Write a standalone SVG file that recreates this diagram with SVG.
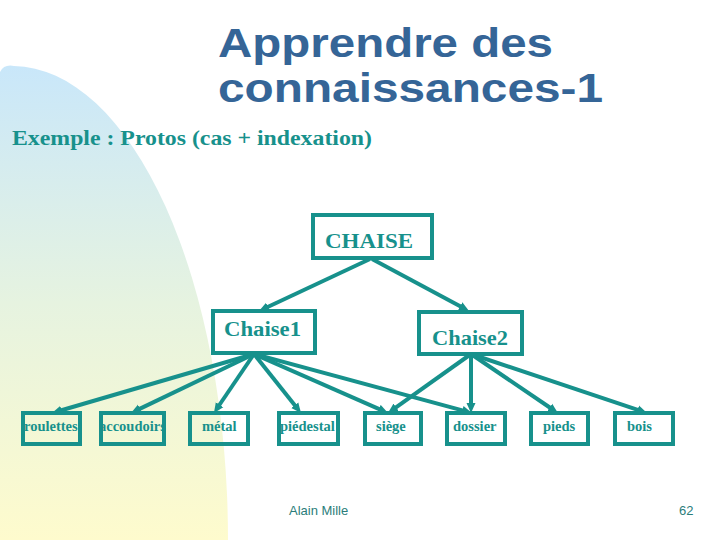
<svg xmlns="http://www.w3.org/2000/svg" width="720" height="540" viewBox="0 0 720 540">
<defs>
<linearGradient id="bg" x1="0" y1="65" x2="0" y2="540" gradientUnits="userSpaceOnUse">
<stop offset="0" stop-color="#c9e7fa"/>
<stop offset="0.5" stop-color="#e6f3e0"/>
<stop offset="1" stop-color="#fefbcd"/>
</linearGradient>
<marker id="ah" markerUnits="userSpaceOnUse" markerWidth="12" markerHeight="10" viewBox="0 -5 12 10" refX="1" refY="0" orient="auto">
<path d="M0,-4.5 L10,0 L0,4.5 z" fill="#17918c"/>
</marker>
<style>
.box{fill:none;stroke:#17918c;stroke-width:4}
.lbl{font-family:"Liberation Serif","Times New Roman",serif;font-weight:bold;fill:#17918c}
.sm{font-size:14.5px}
.con line{stroke:#17918c;stroke-width:4;marker-end:url(#ah)}
.title{font-family:"Liberation Sans",Arial,sans-serif;font-weight:bold;font-size:40px;fill:#356597}
.foot{font-family:"Liberation Sans",Arial,sans-serif;font-size:13px;fill:#2b7d7a}
</style>
</defs>
<rect width="720" height="540" fill="#ffffff"/>
<path d="M0,540 V72 Q4,64 14,66 A 216 474 0 0 1 228,540 Z" fill="url(#bg)"/>
<text class="title" x="218" y="57" textLength="335" lengthAdjust="spacingAndGlyphs">Apprendre des</text>
<text class="title" x="218" y="102" textLength="385" lengthAdjust="spacingAndGlyphs">connaissances-1</text>
<text class="lbl" x="12" y="145" font-size="21" textLength="360" lengthAdjust="spacingAndGlyphs">Exemple : Protos (cas + indexation)</text>

<g class="con" id="connectors">
<line x1="370" y1="259" x2="267.1" y2="307.2"/>
<line x1="372" y1="259" x2="461.1" y2="306.8"/>
<line x1="254" y1="354" x2="60.6" y2="410.5"/>
<line x1="254" y1="354" x2="139.1" y2="409.1"/>
<line x1="254" y1="354" x2="219.0" y2="405.5"/>
<line x1="254" y1="354" x2="295.4" y2="406.0"/>
<line x1="254" y1="354" x2="379.8" y2="409.4"/>
<line x1="254" y1="354" x2="463.3" y2="410.6"/>
<line x1="471" y1="354" x2="395.3" y2="407.8"/>
<line x1="471" y1="354" x2="471" y2="404"/>
<line x1="471" y1="354" x2="550.5" y2="408.0"/>
<line x1="471" y1="354" x2="638.5" y2="410.1"/>
</g>

<g id="chaise">
<rect class="box" x="313" y="215" width="119" height="43"/>
<text class="lbl" x="325" y="248" font-size="22" textLength="88" lengthAdjust="spacingAndGlyphs">CHAISE</text>
</g>
<g id="chaise1">
<rect class="box" x="213" y="311" width="102" height="42"/>
<text class="lbl" x="224" y="336" font-size="20" textLength="77" lengthAdjust="spacingAndGlyphs">Chaise1</text>
</g>
<g id="chaise2">
<rect class="box" x="419" y="312" width="103" height="42"/>
<text class="lbl" x="432" y="345" font-size="22" textLength="76" lengthAdjust="spacingAndGlyphs">Chaise2</text>
</g>

<g id="roulettes">
<text class="lbl sm" x="24" y="431">roulettes</text>
<rect class="box" x="23" y="413" width="57" height="31"/>
</g>
<g id="accoudoirs">
<text class="lbl sm" x="99" y="431">accoudoirs</text>
<rect class="box" x="101" y="413" width="63" height="31"/>
</g>
<g id="metal">
<text class="lbl sm" x="202" y="431">métal</text>
<rect class="box" x="190" y="413" width="58" height="31"/>
</g>
<g id="piedestal">
<text class="lbl sm" x="280" y="431">piédestal</text>
<rect class="box" x="279" y="413" width="59" height="31"/>
</g>
<g id="siege">
<text class="lbl sm" x="376" y="431">siège</text>
<rect class="box" x="365" y="413" width="56" height="31"/>
</g>
<g id="dossier">
<text class="lbl sm" x="453" y="431">dossier</text>
<rect class="box" x="447" y="413" width="58" height="31"/>
</g>
<g id="pieds">
<text class="lbl sm" x="543" y="431">pieds</text>
<rect class="box" x="531" y="413" width="57" height="31"/>
</g>
<g id="bois">
<text class="lbl sm" x="627" y="431">bois</text>
<rect class="box" x="615" y="413" width="58" height="31"/>
</g>

<text class="foot" x="289" y="515">Alain Mille</text>
<text class="foot" x="679" y="515">62</text>
</svg>
